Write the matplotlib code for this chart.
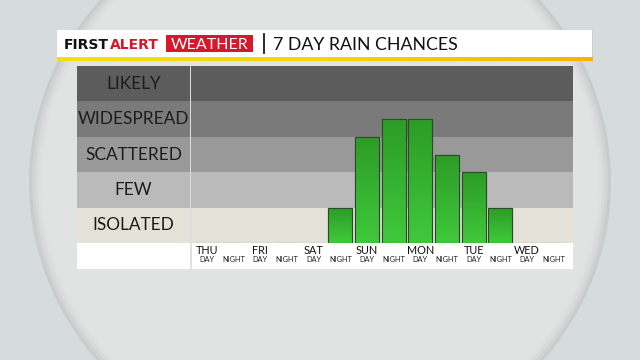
import numpy as np
import matplotlib.pyplot as plt
from matplotlib.patches import Rectangle, Ellipse
from matplotlib.colors import LinearSegmentedColormap

plt.rcParams['font.family'] = ['Lato', 'DejaVu Sans']

# data
levels = ["ISOLATED", "FEW", "SCATTERED", "WIDESPREAD", "LIKELY"]
band_colors = ["#e4e1d8", "#bababa", "#999999", "#7a7a7a", "#5c5c5c"]
days = ["THU", "FRI", "SAT", "SUN", "MON", "TUE", "WED"]
periods = ["DAY", "NIGHT"] * 7
rain = [0, 0, 0, 0, 0, 1.0, 3.0, 3.5, 3.5, 2.5, 2.0, 1.0, 0, 0]

W, H = 640, 360


def px(x0, y0, x1, y1):
    # pixel box -> figure fraction
    return [x0 / W, 1 - y1 / H, (x1 - x0) / W, (y1 - y0) / H]


fig = plt.figure(figsize=(6.4, 3.6), dpi=100)
fig.patch.set_facecolor("#d6dbdb")

bg = fig.add_axes([0, 0, 1, 1])
bg.axis("off")

# oval backdrop with soft edge
shades = ["#c9cccc", "#d2d4d4", "#d9dbdb", "#dee0e0", "#e1e3e3"]
for k, c in enumerate(shades):
    bg.add_patch(Ellipse((320, 182), 582 - k * 6, 556 - k * 6, color=c, lw=0))

# header bar
bg.add_patch(Rectangle((58, 31), 535, 28.5, color="#bfc2c2", lw=0, alpha=0.5))
bg.add_patch(Rectangle((56.5, 29.5), 535.5, 28.5, color="white", lw=0))
stripe = LinearSegmentedColormap.from_list("stripe", ["#f8dd0c", "#f9d40a", "#f6b300"])
bg.imshow(np.linspace(0, 1, 200)[None, :], extent=[56.5, 592, 61.3, 58], cmap=stripe,
          aspect="auto", zorder=2)
bg.add_patch(Rectangle((166, 35), 87, 17, color="#d6182a", lw=0))
bg.plot([264, 264], [34, 53], color="#1a1a1a", lw=1.3)
bg.text(64, 49.3, "FIRST", fontsize=10, fontweight="bold", family="DejaVu Sans",
        color="#111111", va="baseline")
bg.text(110, 49.3, "ALERT", fontsize=10, fontweight="bold", family="DejaVu Sans",
        color="#d6182a", va="baseline")
bg.text(209.5, 49.3, "WEATHER", fontsize=11.5, color="white", va="baseline", ha="center")
bg.text(273, 49.5, "7 DAY RAIN CHANCES", fontsize=12.8, color="#111111", va="baseline")

# white row for the time labels
bg.add_patch(Rectangle((77, 243), 496, 26, color="white", lw=0))
bg.set_xlim(0, W)
bg.set_ylim(H, 0)

# level label column
lab = fig.add_axes(px(77, 66, 190, 243))
lab.set_xlim(0, 1)
lab.set_ylim(0, 5)
lab.axis("off")
for i, (name, c) in enumerate(zip(levels, band_colors)):
    lab.axhspan(i, i + 1, color=c, lw=0)
    lab.text(0.5, i + 0.5, name, ha="center", va="center", fontsize=12.4, color="#1c1c1c")

# plot area
ax = fig.add_axes(px(191, 66, 573, 243))
ax.axis("off")
for i, c in enumerate(band_colors):
    ax.axhspan(i, i + 1, color=c, lw=0, zorder=0)

green = LinearSegmentedColormap.from_list("green", ["#40c83c", "#2c9c26"])
x = np.arange(len(rain))
bars = ax.bar(x, rain, width=0.9, color="#35b030", edgecolor="#2e4a2c", lw=0.8, zorder=2)
for b, v in zip(bars, rain):
    if v <= 0:
        continue
    im = ax.imshow(np.linspace(0, 1, 100)[:, None], extent=[b.get_x(), b.get_x() + b.get_width(), 0, v],
                   origin="lower", cmap=green, aspect="auto", zorder=2.5)
    im.set_clip_path(b)
    ax.add_patch(Rectangle((b.get_x(), 0), b.get_width(), v, fill=False, edgecolor="#2e4a2c", lw=0.8, zorder=3))
ax.set_xlim(-0.6, 13.72)
ax.set_ylim(0, 5)

tr = ax.get_xaxis_transform()
for i, d in enumerate(days):
    ax.text(2 * i, -0.064, d, transform=tr, ha="center", va="baseline", fontsize=7.8,
            color="#111111", clip_on=False)
for i, p in enumerate(periods):
    ax.text(i, -0.109, p, transform=tr, ha="center", va="baseline", fontsize=5.3,
            color="#222222", clip_on=False)

# column divider
bg.plot([190.5, 190.5], [66, 269], color="#dcdcdc", lw=1.2, zorder=5)

fig.savefig("out.png", dpi=100)
